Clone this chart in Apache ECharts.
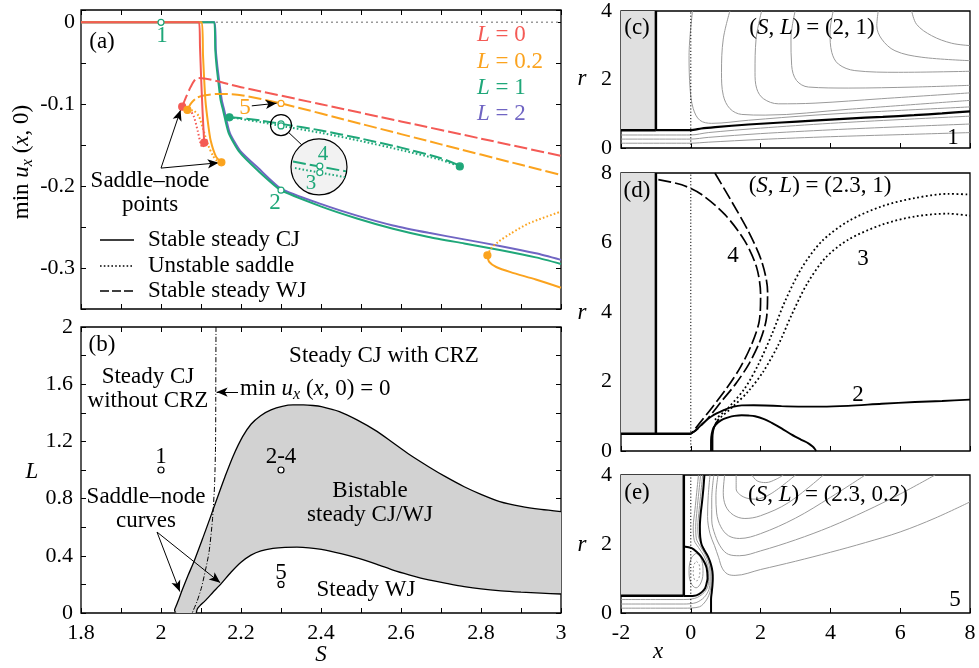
<!DOCTYPE html>
<html><head><meta charset="utf-8">
<script src="https://cdn.jsdelivr.net/npm/echarts@6/dist/echarts.min.js"></script>
<style>html,body{margin:0;padding:0;background:#fff}#c{width:979px;height:668px}</style>
</head><body><div id="c"></div><script>
// ---------- Panel (a): min u_x(x,0) vs S ----------
const redCJ = [[1.8,0],[2.095,0],[2.0975,-0.03],[2.1005,-0.07],[2.104,-0.11],[2.108,-0.147]];
const redSaddle = [[2.053,-0.103],[2.07,-0.106],[2.082,-0.115],[2.092,-0.133],[2.099,-0.148],[2.104,-0.153],[2.108,-0.147]];
const redWJ = [[2.053,-0.103],[2.062,-0.092],[2.072,-0.081],[2.082,-0.072],[2.093,-0.068],[2.2,-0.0792],[2.4,-0.1],[2.6,-0.121],[2.8,-0.142],[3.0,-0.163]];
const orangeCJ = [[1.8,0],[2.102,0],[2.105,-0.04],[2.111,-0.095],[2.118,-0.125],[2.124,-0.144],[2.1375,-0.164],[2.151,-0.171]];
const orangeSaddle = [[2.066,-0.107],[2.082,-0.108],[2.095,-0.115],[2.105,-0.13],[2.118,-0.15],[2.13,-0.163],[2.14,-0.169],[2.151,-0.171]];
const orangeWJ = [[2.066,-0.107],[2.075,-0.099],[2.09,-0.092],[2.11,-0.089],[2.14,-0.0875],[2.17,-0.0877],[2.2,-0.089],[2.3,-0.099],[2.5,-0.124],[2.7,-0.149],[2.9,-0.174],[3.0,-0.1865]];
const orangeCJ2 = [[2.816,-0.2844],[2.8205,-0.2925],[2.838,-0.2987],[2.874,-0.305],[2.937,-0.314],[3.0,-0.324]];
const orangeSaddle2 = [[2.816,-0.2844],[2.825,-0.276],[2.843,-0.268],[2.874,-0.258],[2.919,-0.2456],[3.0,-0.231]];
const greenCJ = [[1.8,0],[2.133,0],[2.1357,-0.0335],[2.139,-0.054],[2.1437,-0.074],[2.149,-0.095],[2.155,-0.107],[2.169,-0.135],[2.1955,-0.158],[2.24,-0.18],[2.3,-0.205],[2.401,-0.225],[2.49,-0.2395],[2.58,-0.252],[2.669,-0.262],[2.758,-0.27],[2.847,-0.278],[2.937,-0.287],[3.0,-0.295]];
const purpleCJ = [[1.8,0],[2.134,0],[2.137,-0.0335],[2.141,-0.054],[2.146,-0.074],[2.152,-0.095],[2.158,-0.107],[2.172,-0.135],[2.198,-0.157],[2.243,-0.178],[2.3,-0.203],[2.401,-0.222],[2.49,-0.236],[2.58,-0.248],[2.669,-0.257],[2.758,-0.265],[2.847,-0.273],[2.937,-0.282],[3.0,-0.29]];
const greenWJ = [[2.171,-0.116],[2.2,-0.117],[2.25,-0.12],[2.3,-0.124],[2.4,-0.132],[2.5,-0.142],[2.6,-0.153],[2.7,-0.166],[2.747,-0.175]];
const greenSaddle = [[2.171,-0.116],[2.2,-0.118],[2.25,-0.122],[2.3,-0.1265],[2.4,-0.135],[2.5,-0.145],[2.6,-0.156],[2.7,-0.168],[2.747,-0.176]];
const zeroLine = [[1.8,0],[3.0,0]];
const snRed = [[2.053,-0.103],[2.108,-0.147]];
const snOrange = [[2.066,-0.107],[2.151,-0.171],[2.816,-0.2844]];
const snGreen = [[2.171,-0.116],[2.747,-0.176]];
const openGreen = [[2.0,0],[2.3,-0.205],[2.3,-0.124],[2.3,-0.1265]];
const openOrange = [[2.3,-0.099]];
const insetSmall = [[2.3,-0.1255]];
const insetBig = [[2.395,-0.1766]];
const insetLink = [[2.318,-0.134],[2.352,-0.1497]];
const insetWJ = [[2.33,-0.170],[2.4625,-0.182]];
const insetSaddle = [[2.335,-0.178],[2.46,-0.189]];
const insetOpen = [[2.397,-0.1755],[2.397,-0.1835]];
const arrowsA = [[[2.0,-0.178],[2.049,-0.107]],[[2.0,-0.178],[2.144,-0.1715]],[[2.227,-0.102],[2.289,-0.0988]]];

// ---------- Panel (b): L vs S ----------
const upperSN = [[2.036,0.005],[2.034,0.02],[2.038,0.05],[2.045,0.1],[2.053,0.161],[2.068,0.265],[2.084,0.371],[2.104,0.52],[2.124,0.674],[2.142,0.815],[2.16,0.953],[2.18,1.095],[2.204,1.233],[2.225,1.32],[2.249,1.38],[2.275,1.42],[2.303,1.445],[2.33,1.455],[2.356,1.455],[2.38,1.451],[2.401,1.443],[2.446,1.408],[2.49,1.35],[2.54,1.27],[2.58,1.19],[2.62,1.11],[2.669,1.023],[2.71,0.955],[2.758,0.883],[2.8,0.83],[2.847,0.779],[2.9,0.745],[2.95,0.724],[3.0,0.709]];
const lowerSN = [[2.088,0.0],[2.091,0.03],[2.097,0.05],[2.11,0.085],[2.13,0.145],[2.151,0.207],[2.175,0.285],[2.2,0.355],[2.225,0.405],[2.25,0.435],[2.28,0.452],[2.31,0.459],[2.34,0.46],[2.37,0.456],[2.401,0.445],[2.45,0.415],[2.49,0.385],[2.54,0.34],[2.58,0.30],[2.62,0.267],[2.669,0.231],[2.72,0.203],[2.758,0.184],[2.8,0.168],[2.85,0.155],[2.9,0.146],[2.95,0.139],[3.0,0.133]];
const bottomEdge = [[2.088,0.0],[2.06,0.0],[2.04,0.0],[2.036,0.005]];
const minUx0 = [[2.1375,2.0],[2.137,1.6],[2.1365,1.2],[2.134,0.9],[2.1286,0.65],[2.1196,0.417],[2.1018,0.184],[2.09,0.08],[2.081,0.02],[2.078,0]];
const bPoints = [[2.0,1.0],[2.3,1.0],[2.3,0.2]];
const arrowsB = [[[1.99,0.566],[2.047,0.15]],[[1.99,0.566],[2.148,0.212]],[[2.1925,1.545],[2.139,1.545]]];

// ---------- Panel (c): (S,L)=(2,1), x-r plane ----------
const cWallRect = [[-2,-1,0.52,4]];
const cWall = [[-1,4],[-1,0.52]];
const cNozzle = [[-2,0.52],[-1,0.52]];
const cSep = [[-1,0.52],[0,0.52],[0.3,0.57],[0.7,0.61],[1.65,0.686],[2.6,0.744],[3.5,0.8],[4.5,0.86],[5.5,0.91],[6.4,0.957],[7.2,1.01],[8,1.07]];
const cLow1 = [[-2,0.38],[0,0.38],[0.5,0.45],[2,0.58],[4,0.72],[6,0.83],[8,0.93]];
const cLow2 = [[-2,0.26],[0,0.26],[0.5,0.31],[2,0.42],[4,0.53],[6,0.62],[8,0.7]];
const cLow3 = [[-2,0.14],[0,0.14],[0.5,0.17],[2,0.25],[4,0.33],[6,0.39],[8,0.45]];
const cC1 = [[0.05,4.0],[-0.05,2.7],[-0.02,1.73],[0.07,1.15],[0.26,0.81],[0.6,0.72],[1.65,0.81],[3.56,0.96],[5.47,1.07],[8,1.2]];
const cC2 = [[1.12,4.0],[0.93,3.18],[0.88,2.21],[0.93,1.54],[1.12,1.15],[1.46,0.98],[2.13,0.96],[4.51,1.13],[8,1.39]];
const cC3 = [[2.03,4.0],[1.87,3.18],[1.84,2.21],[1.89,1.73],[2.08,1.44],[2.51,1.29],[3.56,1.31],[5.47,1.44],[8,1.61]];
const cC4 = [[2.99,4.0],[2.87,3.18],[2.89,2.41],[3.03,1.97],[3.37,1.78],[4.51,1.75],[6.42,1.78],[8,1.83]];
const cC5 = [[4.08,4.0],[3.99,3.37],[4.04,2.79],[4.23,2.45],[4.7,2.26],[5.95,2.21],[8,2.24]];
const cC6 = [[5.37,4.0],[5.33,3.57],[5.47,3.18],[5.85,2.84],[6.62,2.65],[8,2.55]];
const cC7 = [[6.33,4.0],[6.47,3.61],[6.9,3.28],[7.47,3.06],[8,2.99]];
const axisX0c = [[0,0],[0,4]];

// ---------- Panel (d): (S,L)=(2.3,1) ----------
const dWallRect = [[-2,-1,0.5,8]];
const dWall = [[-1,8],[-1,0.5]];
const dNozzle = [[-2,0.5],[0,0.5]];
const d2 = [[0,0.5],[0.15,0.6],[0.31,0.76],[0.6,1.0],[0.98,1.19],[1.2,1.27],[1.457,1.314],[1.8,1.316],[2.126,1.31],[2.6,1.29],[3.08,1.278],[3.75,1.276],[4.51,1.3],[5.47,1.36],[6.42,1.41],[7.2,1.44],[8,1.477]];
const dBubble = [[0.579,0],[0.58,0.3],[0.6,0.5],[0.646,0.66],[0.72,0.76],[0.79,0.83],[0.93,0.92],[1.075,0.97],[1.25,1.01],[1.457,1.03],[1.65,1.02],[1.84,1.0],[2.1,0.92],[2.32,0.81],[2.6,0.65],[2.89,0.47],[3.15,0.33],[3.37,0.22],[3.5,0.12],[3.56,0.05],[3.59,0]];
const dStem = [[0.62,0],[0.62,0.35],[0.64,0.58],[0.7,0.76],[0.79,0.9]];
const d4a = [[0.69,8.0],[1.17,7.18],[1.65,6.32],[2.03,5.46],[2.2,4.59],[2.17,3.83],[1.98,3.16],[1.65,2.48],[1.27,1.91],[0.88,1.43],[0.5,0.95],[0.22,0.66],[0,0.5]];
const d4b = [[-0.93,7.81],[-0.26,7.66],[0.31,7.38],[0.98,6.8],[1.55,6.04],[1.89,5.27],[2.0,4.5],[1.96,3.73],[1.74,3.06],[1.41,2.39],[1.03,1.81],[0.6,1.24],[0.26,0.81],[0.07,0.57],[0,0.5]];
const d3a = [[0.69,0.9],[1.07,1.24],[1.55,1.81],[1.93,2.48],[2.32,3.35],[2.7,4.31],[3.18,5.27],[3.75,6.03],[4.51,6.61],[5.47,7.04],[6.42,7.28],[7.38,7.40],[8,7.38]];
const d3b = [[0.65,0.66],[0.79,0.9],[1.17,1.24],[1.65,1.72],[2.08,2.29],[2.51,3.06],[2.89,3.92],[3.32,4.79],[3.85,5.55],[4.51,6.08],[5.47,6.51],[6.42,6.75],[7.38,6.83],[8,6.77]];
const axisX0d = [[0,0],[0,8]];

// ---------- Panel (e): (S,L)=(2.3,0.2) ----------
const eWallRect = [[-2,-0.2,0.5,4]];
const eWall = [[-0.2,4],[-0.2,0.5]];
const eNozzle = [[-2,0.5],[-0.2,0.5]];
const eBubble = [[-0.2,1.93],[0.025,1.88],[0.18,1.76],[0.29,1.64],[0.4,1.45],[0.455,1.30],[0.48,1.01],[0.45,0.85],[0.41,0.72],[0.33,0.62],[0.235,0.55],[0.1,0.5],[-0.2,0.49]];
const eOuter = [[0.39,4.0],[0.36,3.6],[0.32,3.2],[0.28,2.85],[0.26,2.5],[0.27,2.2],[0.31,1.98],[0.4,1.8],[0.5,1.62],[0.58,1.4],[0.62,1.2],[0.63,1.0],[0.62,0.8],[0.6,0.6],[0.58,0.4],[0.58,0]];
const eLoop1 = [[0.15,1.73],[0.28,1.62],[0.35,1.23],[0.3,0.9],[0.15,0.73],[0.0,0.88],[-0.05,1.23],[0.02,1.6],[0.15,1.73]];
const eLoop2 = [[0.16,1.5],[0.24,1.4],[0.26,1.2],[0.22,0.98],[0.16,0.93],[0.1,0.98],[0.07,1.2],[0.09,1.4],[0.16,1.5]];
const eS1 = [[-2,0.39],[-0.2,0.39],[0.1,0.42],[0.3,0.52],[0.45,0.68],[0.51,0.9],[0.51,1.15],[0.48,1.38],[0.38,1.65],[0.22,1.9],[0.1,2.1],[0.07,2.5],[0.12,3.0],[0.17,3.5],[0.22,4.0]];
const eS2 = [[-2,0.26],[-0.2,0.26],[0.15,0.3],[0.38,0.45],[0.52,0.68],[0.55,0.92],[0.55,1.18],[0.52,1.42],[0.42,1.68],[0.28,1.92],[0.16,2.15],[0.14,2.5],[0.18,3.0],[0.23,3.5],[0.28,4.0]];
const eS3 = [[-2,0.14],[-0.2,0.14],[0.25,0.18],[0.45,0.38],[0.56,0.65],[0.58,0.92],[0.58,1.2],[0.55,1.45],[0.47,1.7],[0.35,1.92],[0.22,2.2],[0.2,2.5],[0.24,3.0],[0.29,3.5],[0.34,4.0]];
const eC1 = [[0.55,4.0],[0.5,3.4],[0.48,2.8],[0.55,2.3],[0.68,1.95],[0.8,1.6],[0.9,1.3],[1.05,1.13],[1.27,1.09],[2,1.26],[3,1.5],[4,1.76],[5,2.04],[6,2.35],[7,2.75],[8,3.22]];
const eC2 = [[0.66,4.0],[0.6,3.3],[0.6,2.7],[0.7,2.25],[0.88,1.88],[1.08,1.7],[1.4,1.66],[2,1.8],[3,2.12],[4,2.5],[5,2.95],[6,3.45],[7,4.0]];
const eC3 = [[0.78,4.0],[0.72,3.4],[0.74,2.9],[0.86,2.5],[1.08,2.24],[1.4,2.16],[2,2.3],[3,2.75],[4,3.35],[5,4.0]];
const eC4 = [[0.97,4.0],[0.93,3.5],[1.0,3.1],[1.22,2.84],[1.55,2.74],[2,2.82],[2.8,3.2],[3.8,4.0]];
const eC5 = [[1.3,4.0],[1.3,3.6],[1.5,3.37],[1.85,3.3],[2.3,3.46],[3.0,4.0]];
const eC6 = [[1.75,4.0],[1.9,3.83],[2.15,3.78],[2.45,3.88],[2.65,4.0]];
const axisX0e = [[0,0],[0,4]];

// ---------- styling ----------
const F = 'Liberation Serif';
const RED = '#f45a55', ORG = '#fba31e', GRN = '#1fa779', PUR = '#7065c3', GRY = '#9a9a9a';
const DASH = [13,4], DOT = [1.6,2.2], DDASH = [13,4], DDOT = [1.8,2.6];
const A = 0, B = 2, C = 4, D = 5, E = 6;

function Ln(ax, data, color, width, dash, z, smooth) {
  return {type:'line', xAxisIndex:ax, yAxisIndex:ax, data:data, showSymbol:false, symbol:'none',
    smooth: smooth === undefined ? 0.25 : smooth, lineStyle:{color:color, width:width, type:dash||'solid', cap:'butt'},
    z: z||2, silent:true, animation:false};
}
function Pt(ax, data, fill, border, size, z) {
  return {type:'scatter', xAxisIndex:ax, yAxisIndex:ax, data:data, symbol:'circle', symbolSize:size,
    itemStyle:{color:fill, borderColor:border, borderWidth:1.2, opacity:1}, z:z||5, silent:true, animation:false};
}
function Arr(ax, pairs) {
  return {type:'line', xAxisIndex:ax, yAxisIndex:ax, data:[], z:6, silent:true, animation:false,
    markLine:{silent:true, animation:false, symbol:['none','arrow'], symbolSize:[7,11], label:{show:false},
      lineStyle:{color:'#000', width:1, type:'solid'}, emphasis:{disabled:true},
      data: pairs.map(p => [{coord:p[0]},{coord:p[1]}])}};
}
function WallRect(ax, rect) {
  return {type:'custom', xAxisIndex:ax, yAxisIndex:ax, data:rect, z:1, silent:true, animation:false,
    renderItem:(p, api) => {
      const a = api.coord([api.value(0), api.value(3)]);
      const b = api.coord([api.value(1), api.value(2)]);
      return {type:'rect', shape:{x:a[0], y:a[1], width:b[0]-a[0], height:b[1]-a[1]}, style:{fill:'#e0e0e0'}};
    }};
}
const bistablePoly = upperSN.concat(lowerSN.slice().reverse()).concat(bottomEdge);

const tickStyle = {inside:true, length:5, lineStyle:{color:'#000', width:1}};
const lbl = (fmt, margin, show) => ({show: show!==false, formatter: fmt, margin: margin, fontFamily:F, fontSize:22, color:'#000', showMinLabel:true, showMaxLabel:true, hideOverlap:false});
const fmt1 = v => String(parseFloat(v.toFixed(1)));
const fmtAy = v => { const k = Math.round(v*100); return (k % 10 === 0) ? fmt1(v) : ''; };
const fmtBx = v => (Math.round(v*10) % 2 === 0) ? fmt1(v) : '';
const fmtBy = v => (Math.round(v*10) % 4 === 0) ? fmt1(v) : '';
function xa(grid, min, max, interval, label, pos, tick) {
  return {gridIndex:grid, type:'value', min:min, max:max, interval:interval, position:pos||'bottom',
    axisLine:{show:false, onZero:false}, axisTick: tick===false ? {show:false} : tickStyle, splitLine:{show:false},
    axisLabel: label || {show:false}};
}
const xAxes = [
  xa(0, 1.8, 3, 0.1, null, 'bottom'),
  xa(0, 1.8, 3, 0.1, null, 'top'),
  xa(1, 1.8, 3, 0.1, lbl(fmtBx, 9), 'bottom'),
  xa(1, 1.8, 3, 0.1, null, 'top'),
  xa(2, -2, 8, 2, null, 'bottom'),
  xa(3, -2, 8, 2, null, 'bottom'),
  xa(4, -2, 8, 2, lbl(v => String(v), 9), 'bottom')
];
const yAxes = [
  xa(0, -0.35, 0.015, 0.05, lbl(fmtAy, 6), 'left'),
  xa(0, -0.35, 0.015, 0.05, null, 'right'),
  xa(1, 0, 2, 0.2, lbl(fmtBy, 8), 'left'),
  xa(1, 0, 2, 0.2, null, 'right'),
  xa(2, 0, 4, 2, lbl(v => String(v), 9), 'left'),
  xa(3, 0, 8, 2, lbl(v => String(v), 9), 'left'),
  xa(4, 0, 4, 2, lbl(v => String(v), 9), 'left')
];

const gridBox = (l,t,w,h) => ({left:l, top:t, width:w, height:h, show:true, borderColor:'#000', borderWidth:1.3, backgroundColor:'rgba(0,0,0,0)', containLabel:false});

const series = [
  // panel (a)
  Ln(A, zeroLine, GRY, 1.5, [2,3], 1, false),
  Ln(A, purpleCJ, PUR, 2, 'solid', 2, 0.2),
  Ln(A, greenCJ, GRN, 2, 'solid', 2, 0.2),
  Ln(A, greenWJ, GRN, 2, DASH, 2),
  Ln(A, greenSaddle, GRN, 2, DOT, 2),
  Ln(A, orangeCJ, ORG, 2, 'solid', 2, 0.2),
  Ln(A, orangeSaddle, ORG, 2, DOT, 2),
  Ln(A, orangeWJ, ORG, 2, DASH, 2),
  Ln(A, orangeCJ2, ORG, 2, 'solid', 2),
  Ln(A, orangeSaddle2, ORG, 2, DOT, 2),
  Ln(A, redCJ, RED, 2, 'solid', 2, 0.2),
  Ln(A, redSaddle, RED, 2, DOT, 2),
  Ln(A, redWJ, RED, 2, DASH, 2),
  Pt(A, insetBig, '#f2f2f2', '#000', 56, 3),
  Pt(A, insetSmall, 'rgba(0,0,0,0)', '#000', 21, 3),
  Ln(A, insetLink, '#000', 1, 'solid', 3, false),
  Ln(A, insetWJ, GRN, 2, DASH, 4, false),
  Ln(A, insetSaddle, GRN, 2, DOT, 4, false),
  Pt(A, insetOpen, '#fff', GRN, 6, 5),
  Pt(A, snRed, RED, RED, 7, 5),
  Pt(A, snOrange, ORG, ORG, 7, 5),
  Pt(A, snGreen, GRN, GRN, 7, 5),
  Pt(A, openGreen, '#fff', GRN, 6, 5),
  Pt(A, openOrange, '#fff', ORG, 6, 5),
  Arr(A, arrowsA),
  // panel (b)
  {type:'custom', xAxisIndex:B, yAxisIndex:B, data:[[2.5,1]], z:1, silent:true, animation:false,
    renderItem:(p, api) => ({type:'polygon', shape:{points: bistablePoly.map(q => api.coord(q))}, style:{fill:'#d2d2d2', stroke:'none'}})},
  Ln(B, upperSN, '#000', 1.3, 'solid', 2, 0.25),
  Ln(B, lowerSN, '#000', 1.3, 'solid', 2, 0.25),
  Ln(B, minUx0, '#000', 1, [5,2,1,2], 3, 0.2),
  Pt(B, bPoints, '#fff', '#000', 6, 5),
  Arr(B, arrowsB),
  // panel (c)
  WallRect(C, cWallRect),
  Ln(C, cLow1, GRY, 1, 'solid', 2, 0.3),
  Ln(C, cLow2, GRY, 1, 'solid', 2, 0.3),
  Ln(C, cLow3, GRY, 1, 'solid', 2, 0.3),
  Ln(C, cC1, GRY, 1, 'solid', 2, 0.35),
  Ln(C, cC2, GRY, 1, 'solid', 2, 0.35),
  Ln(C, cC3, GRY, 1, 'solid', 2, 0.35),
  Ln(C, cC4, GRY, 1, 'solid', 2, 0.35),
  Ln(C, cC5, GRY, 1, 'solid', 2, 0.35),
  Ln(C, cC6, GRY, 1, 'solid', 2, 0.35),
  Ln(C, cC7, GRY, 1, 'solid', 2, 0.35),
  Ln(C, axisX0c, '#000', 1, [1.2,2], 3, false),
  Ln(C, cWall, '#000', 2.5, 'solid', 4, false),
  Ln(C, cNozzle, '#000', 2.5, 'solid', 4, false),
  Ln(C, cSep, '#000', 2.2, 'solid', 4, 0.2),
  // panel (d)
  WallRect(D, dWallRect),
  Ln(D, axisX0d, '#000', 1, [1.2,2], 3, false),
  Ln(D, dWall, '#000', 2.5, 'solid', 4, false),
  Ln(D, dNozzle, '#000', 2.5, 'solid', 4, false),
  Ln(D, d2, '#000', 1.9, 'solid', 4, 0.3),
  Ln(D, dBubble, '#000', 1.9, 'solid', 4, 0.3),
  Ln(D, dStem, '#000', 1.9, 'solid', 4, 0.3),
  Ln(D, d4a, '#000', 1.7, DDASH, 4, 0.3),
  Ln(D, d4b, '#000', 1.7, DDASH, 4, 0.3),
  Ln(D, d3a, '#000', 1.8, DDOT, 4, 0.3),
  Ln(D, d3b, '#000', 1.8, DDOT, 4, 0.3),
  // panel (e)
  WallRect(E, eWallRect),
  Ln(E, eS1, GRY, 1, 'solid', 2, 0.3),
  Ln(E, eS2, GRY, 1, 'solid', 2, 0.3),
  Ln(E, eS3, GRY, 1, 'solid', 2, 0.3),
  Ln(E, eLoop1, GRY, 1, 'solid', 2, 0.4),
  Ln(E, eLoop2, GRY, 1, [2,2], 2, 0.4),
  Ln(E, eC1, GRY, 1, 'solid', 2, 0.35),
  Ln(E, eC2, GRY, 1, 'solid', 2, 0.35),
  Ln(E, eC3, GRY, 1, 'solid', 2, 0.35),
  Ln(E, eC4, GRY, 1, 'solid', 2, 0.35),
  Ln(E, eC5, GRY, 1, 'solid', 2, 0.35),
  Ln(E, eC6, GRY, 1, 'solid', 2, 0.35),
  Ln(E, axisX0e, '#000', 1, [1.2,2], 3, false),
  Ln(E, eWall, '#000', 2.5, 'solid', 4, false),
  Ln(E, eNozzle, '#000', 2.5, 'solid', 4, false),
  Ln(E, eBubble, '#000', 2, 'solid', 4, 0.3),
  Ln(E, eOuter, '#000', 2, 'solid', 4, 0.3)
];

// ---------- text ----------
function RICH(size) {
  return {
    n:{fontFamily:F, fontSize:size, lineHeight:size+4, verticalAlign:'middle'},
    i:{fontFamily:F, fontSize:size, fontStyle:'italic', lineHeight:size+4, verticalAlign:'middle'},
    s:{fontFamily:F, fontSize:Math.round(size*0.68), fontStyle:'italic', lineHeight:Math.round(size*0.5), verticalAlign:'bottom'}
  };
}
function T(x, y, text, o) {
  o = o || {};
  const size = o.size || 23;
  const st = {text:text, fill:o.color||'#000', font:(o.italic?'italic ':'') + size + 'px "' + F + '"',
    align:o.align||'center', verticalAlign:'middle', textAlign:o.align||'center', textVerticalAlign:'middle'};
  if (o.rich) st.rich = RICH(size);
  return {type:'text', x:x, y:y, rotation:o.rot||0, z:100, silent:true, style:st};
}
const SL = '{n|(}{i|S}{n|, }{i|L}{n|) = ';
const texts = [
  T(102,42,'(a)'),
  T(162,36,'1',{color:GRN}), T(275,203,'2',{color:GRN}), T(245,108,'5',{color:ORG}),
  T(323,154,'4',{color:GRN,size:21}), T(311,183,'3',{color:GRN,size:21}),
  T(150,181,'Saddle–node'), T(150,205,'points'),
  T(148,240,'Stable steady CJ',{align:'left'}), T(148,266,'Unstable saddle',{align:'left'}), T(148,291,'Stable steady WJ',{align:'left'}),
  T(477,35,'{i|L}{n| = 0}',{align:'left',color:RED,rich:true}),
  T(477,62,'{i|L}{n| = 0.2}',{align:'left',color:ORG,rich:true}),
  T(477,88,'{i|L}{n| = 1}',{align:'left',color:GRN,rich:true}),
  T(477,114,'{i|L}{n| = 2}',{align:'left',color:PUR,rich:true}),
  T(22,162,'{n|min }{i|u}{s|x}{n| (}{i|x}{n|, 0)}',{rot:Math.PI/2,rich:true}),
  T(102,345,'(b)'),
  T(384,356,'Steady CJ with CRZ'),
  T(148,377,'Steady CJ'), T(148,401,'without CRZ'),
  T(240,389,'{n|min }{i|u}{s|x}{n| (}{i|x}{n|, 0) = 0}',{align:'left',rich:true}),
  T(161,457,'1'), T(281,457,'2-4'), T(281,573,'5'),
  T(370,491,'Bistable'), T(370,515,'steady CJ/WJ'),
  T(146,497,'Saddle–node'), T(146,521,'curves'),
  T(366,590,'Steady WJ'),
  T(321,655,'S',{italic:true}), T(32,472,'L',{italic:true}),
  T(637,28,'(c)'), T(812,28,SL+'(2, 1)}',{rich:true}), T(953,138,'1'),
  T(637,191,'(d)'), T(820,186,SL+'(2.3, 1)}',{rich:true}), T(733,256,'4'), T(863,259,'3'), T(858,395,'2'),
  T(637,493,'(e)'), T(828,495,SL+'(2.3, 0.2)}',{rich:true}), T(955,600,'5'),
  T(582,79,'r',{italic:true}), T(582,313,'r',{italic:true}), T(582,545,'r',{italic:true}),
  T(658,652,'x',{italic:true})
];
const legendLines = [
  {type:'line', z:100, silent:true, shape:{x1:100,y1:240,x2:134,y2:240}, style:{stroke:'#000', lineWidth:1.6}},
  {type:'line', z:100, silent:true, shape:{x1:100,y1:266,x2:134,y2:266}, style:{stroke:'#000', lineWidth:1.6, lineDash:[1.6,2.2]}},
  {type:'line', z:100, silent:true, shape:{x1:100,y1:291,x2:134,y2:291}, style:{stroke:'#000', lineWidth:1.6, lineDash:[9,3]}}
];

const chart = echarts.init(document.getElementById('c'), null, {renderer:'canvas'});
chart.setOption({
  animation:false,
  backgroundColor:'#fff',
  textStyle:{fontFamily:F},
  grid:[gridBox(81,10,480,299), gridBox(81,327,480,286), gridBox(621,10,349,138), gridBox(621,173,349,278), gridBox(621,475,349,138)],
  xAxis:xAxes,
  yAxis:yAxes,
  series:series,
  graphic:{elements: texts.concat(legendLines)}
});
</script></body></html>
